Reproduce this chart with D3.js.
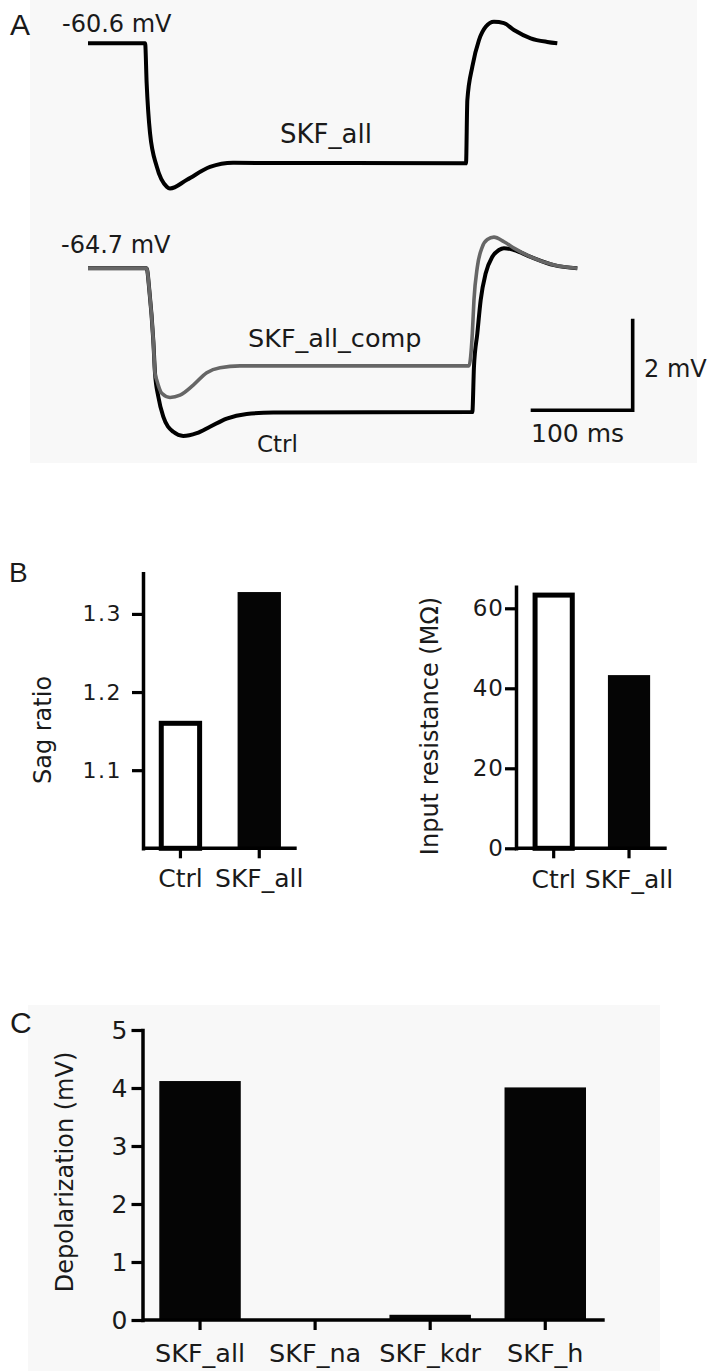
<!DOCTYPE html>
<html>
<head>
<meta charset="utf-8">
<script src="https://cdn.jsdelivr.net/npm/d3@7"></script>
<style>
  html, body { margin: 0; padding: 0; background: #ffffff; }
  svg { display: block; }
  text { font-family: "DejaVu Sans", sans-serif; fill: #1a1a1a; }
  .panel-letter { font-family: "Liberation Sans", Arial, sans-serif; }
</style>
</head>
<body>
<svg id="chart" width="714" height="1371"></svg>
<script>
// ---------------- DATA ----------------
// Panel A: membrane potential traces, [time (ms), voltage (mV)]
const traceSKFall = [
  [0, -60.6], [56, -60.6], [57.5, -61.47], [60.8, -62.56], [67.4, -63.29], [77.2, -63.73],
  [80.4, -63.77], [97, -63.58], [119.6, -63.3], [142.2, -63.21], [370.6, -63.22],
  [371.9, -61.84], [376.8, -61.11], [383.3, -60.53], [389.9, -60.24], [398, -60.13],
  [407.8, -60.16], [417.6, -60.31], [434, -60.49], [450.3, -60.57], [460.1, -60.6]
];
const traceSKFallComp = [
  [0, -64.7], [57.5, -64.7], [60.1, -65.17], [64.0, -66.27], [65.7, -66.99], [67.4, -67.14],
  [72.3, -67.43], [80.4, -67.52], [90.2, -67.47], [103.2, -67.25], [116.4, -66.98],
  [129.4, -66.87], [149, -66.83], [373.5, -66.83], [376.8, -66.12], [378.4, -65.39],
  [381.7, -64.67], [386.6, -64.23], [391.5, -64.07], [398, -64.02], [407.8, -64.12],
  [417.6, -64.26], [434, -64.45], [456.9, -64.63], [479.7, -64.7]
];
const traceCtrl = [
  [0, -64.7], [57.5, -64.7], [60.1, -65.17], [64.0, -66.27], [65.7, -66.99], [68.9, -67.5],
  [73.8, -67.94], [83.6, -68.27], [93.4, -68.36], [106.6, -68.3], [119.6, -68.16],
  [136, -67.98], [155.6, -67.88], [181.7, -67.85], [376.8, -67.84], [378.4, -66.85],
  [381.7, -66.12], [385, -65.39], [389.9, -64.81], [396.4, -64.45], [402.9, -64.3],
  [407.8, -64.26], [417.6, -64.3], [434, -64.45], [456.9, -64.63], [479.7, -64.7]
];
const restTop = -60.6;
const restBottom = -64.7;
const scaleBarMs = 100;
const scaleBarMv = 2;

// Panel B
const bCategories = ["Ctrl", "SKF_all"];
const sagValues = [1.16, 1.328];
const sagTicks = [1.1, 1.2, 1.3];
const rinValues = [63.3, 43.3];
const rinTicks = [0, 20, 40, 60];

// Panel C
const cCategories = ["SKF_all", "SKF_na", "SKF_kdr", "SKF_h"];
const depolValues = [4.12, 0, 0.09, 4.01];
const depolTicks = [0, 1, 2, 3, 4, 5];

// ---------------- DRAW ----------------
const svg = d3.select("#chart");

// subtle panel backgrounds (scanned figure)
svg.append("rect").attr("x", 30).attr("y", 0).attr("width", 667).attr("height", 463).attr("fill", "#f8f8f8");
svg.append("rect").attr("x", 28).attr("y", 1005).attr("width", 632).attr("height", 366).attr("fill", "#f8f8f8");

// Panel letters
svg.append("text").attr("class", "panel-letter").attr("x", 10).attr("y", 35).attr("font-size", 30).text("A");
svg.append("text").attr("class", "panel-letter").attr("x", 9).attr("y", 582).attr("font-size", 28).text("B");
svg.append("text").attr("class", "panel-letter").attr("x", 10).attr("y", 1033).attr("font-size", 30).text("C");

// ---- Panel A ----
const pxPerMs = 1.02, pxPerMv = 45.8;
const xA = d3.scaleLinear().domain([0, 480]).range([88, 88 + 480 * pxPerMs]);
const yTop = d3.scaleLinear().domain([restTop, restTop - 4]).range([43.3, 43.3 + 4 * pxPerMv]);
const yBot = d3.scaleLinear().domain([restBottom, restBottom - 4]).range([268.3, 268.3 + 4 * pxPerMv]);

const lineTop = d3.line().x(d => xA(d[0])).y(d => yTop(d[1])).curve(d3.curveMonotoneX);
const lineBot = d3.line().x(d => xA(d[0])).y(d => yBot(d[1])).curve(d3.curveMonotoneX);

const gA = svg.append("g");
gA.append("path").datum(traceSKFall).attr("d", lineTop)
  .attr("fill", "none").attr("stroke", "#000").attr("stroke-width", 4)
  .attr("stroke-linejoin", "round").attr("stroke-linecap", "butt");
gA.append("path").datum(traceCtrl).attr("d", lineBot)
  .attr("fill", "none").attr("stroke", "#000").attr("stroke-width", 4)
  .attr("stroke-linejoin", "round");
gA.append("path").datum(traceSKFallComp).attr("d", lineBot)
  .attr("fill", "none").attr("stroke", "#666").attr("stroke-width", 3.6)
  .attr("stroke-linejoin", "round");

// scale bar (corner at t=534 ms, V=-67.8 mV in bottom trace coordinates)
const sbT = 534, sbV = -67.8;
gA.append("path")
  .attr("d", `M${xA(sbT - scaleBarMs)},${yBot(sbV)}H${xA(sbT)}V${yBot(sbV + scaleBarMv)}`)
  .attr("fill", "none").attr("stroke", "#000").attr("stroke-width", 3.6)
  .attr("stroke-linecap", "butt").attr("stroke-linejoin", "miter");

const aLabels = [
  { t: "-60.6 mV", x: 62, y: 32, fs: 24 },
  { t: "SKF_all", x: 280, y: 143, fs: 26 },
  { t: "-64.7 mV", x: 61, y: 253, fs: 24 },
  { t: "SKF_all_comp", x: 248, y: 347, fs: 25.5 },
  { t: "Ctrl", x: 257, y: 452, fs: 23 },
  { t: "2 mV", x: 644, y: 377, fs: 24 },
  { t: "100 ms", x: 531, y: 442, fs: 25 }
];
gA.selectAll("text.alab").data(aLabels).join("text").attr("class", "alab")
  .attr("x", d => d.x).attr("y", d => d.y).attr("font-size", d => d.fs).text(d => d.t);

// ---- helper to style axes ----
function styleAxis(g, fs, ls) {
  g.selectAll("path.domain").attr("stroke", "#000").attr("stroke-width", 3.5).attr("stroke-linecap", "square");
  g.selectAll(".tick line").attr("stroke", "#000").attr("stroke-width", 3.2);
  g.selectAll(".tick text").attr("font-family", "DejaVu Sans, sans-serif").attr("font-size", fs)
    .attr("fill", "#1a1a1a").attr("letter-spacing", ls || 0);
}

function barPanel(opts) {
  const g = svg.append("g");
  const x = d3.scaleBand().domain(opts.categories).range(opts.xRange)
    .paddingInner(opts.padIn).paddingOuter(opts.padOut);
  const y = d3.scaleLinear().domain(opts.yDomain).range(opts.yRange);

  // bars
  const data = opts.categories.map((c, i) => ({ c, v: opts.values[i], i }));
  g.selectAll("rect.bar").data(data).join("rect").attr("class", "bar")
    .attr("x", d => opts.hollow && d.i === 0 ? x(d.c) + 2.5 : x(d.c))
    .attr("width", d => opts.hollow && d.i === 0 ? x.bandwidth() - 5 : x.bandwidth())
    .attr("y", d => y(d.v))
    .attr("height", d => Math.max(0, y(opts.yDomain[0]) - y(d.v)))
    .attr("fill", d => opts.hollow && d.i === 0 ? "#fff" : "#050505")
    .attr("stroke", d => opts.hollow && d.i === 0 ? "#000" : "none")
    .attr("stroke-width", 5);

  // y axis
  const gy = g.append("g").attr("transform", `translate(${opts.xRange[0]},0)`)
    .call(d3.axisLeft(y).tickValues(opts.ticks).tickSize(11).tickPadding(opts.tickPad)
      .tickSizeOuter(0).tickFormat(opts.fmt));
  styleAxis(gy, opts.tickFs, opts.tickLs);

  // x axis
  const gx = g.append("g").attr("transform", `translate(0,${opts.yRange[0]})`)
    .call(d3.axisBottom(x).tickSize(10).tickSizeOuter(0));
  gx.select("path.domain").remove();
  gx.append("line").attr("x1", opts.xRange[0]).attr("x2", opts.xEnd)
    .attr("stroke", "#000").attr("stroke-width", 3.5);
  styleAxis(gx, opts.catFs);
  gx.selectAll(".tick text").attr("dy", null).attr("y", opts.catOffset);

  // y title
  g.append("text")
    .attr("transform", `translate(${opts.titleX},${opts.titleY}) rotate(-90)`)
    .attr("text-anchor", "middle").attr("font-size", 24).text(opts.title);
}

// Panel B left: sag ratio
barPanel({
  categories: bCategories, values: sagValues, ticks: sagTicks,
  xRange: [143, 296.7], xEnd: 296.7, padIn: 0.45, padOut: 0.2,
  yDomain: [1.0, 1.352], yRange: [848.3, 573.3],
  tickPad: 10, tickFs: 22, tickLs: 1.5, catFs: 25, catOffset: 38.5, hollow: true,
  fmt: d3.format(".1f"), title: "Sag ratio", titleX: 51, titleY: 730
});

// Panel B right: input resistance
barPanel({
  categories: bCategories, values: rinValues, ticks: rinTicks,
  xRange: [516, 666.7], xEnd: 666.7, padIn: 0.44, padOut: 0.22,
  yDomain: [0, 65.4], yRange: [848.3, 586.7],
  tickPad: 1, tickFs: 23, tickLs: 1, catFs: 25, catOffset: 40, hollow: true,
  fmt: d3.format("d"), title: "Input resistance (MΩ)", titleX: 438, titleY: 726
});

// Panel C: depolarization
barPanel({
  categories: cCategories, values: depolValues, ticks: depolTicks,
  xRange: [142.5, 602.8], xEnd: 604.7, padIn: 0.292, padOut: 0.146,
  yDomain: [0, 5], yRange: [1320, 1030],
  tickPad: 4, tickFs: 25, tickLs: 0, catFs: 25.5, catOffset: 41.7, hollow: false,
  fmt: d3.format("d"), title: "Depolarization (mV)", titleX: 72.5, titleY: 1172
});
</script>
</body>
</html>
